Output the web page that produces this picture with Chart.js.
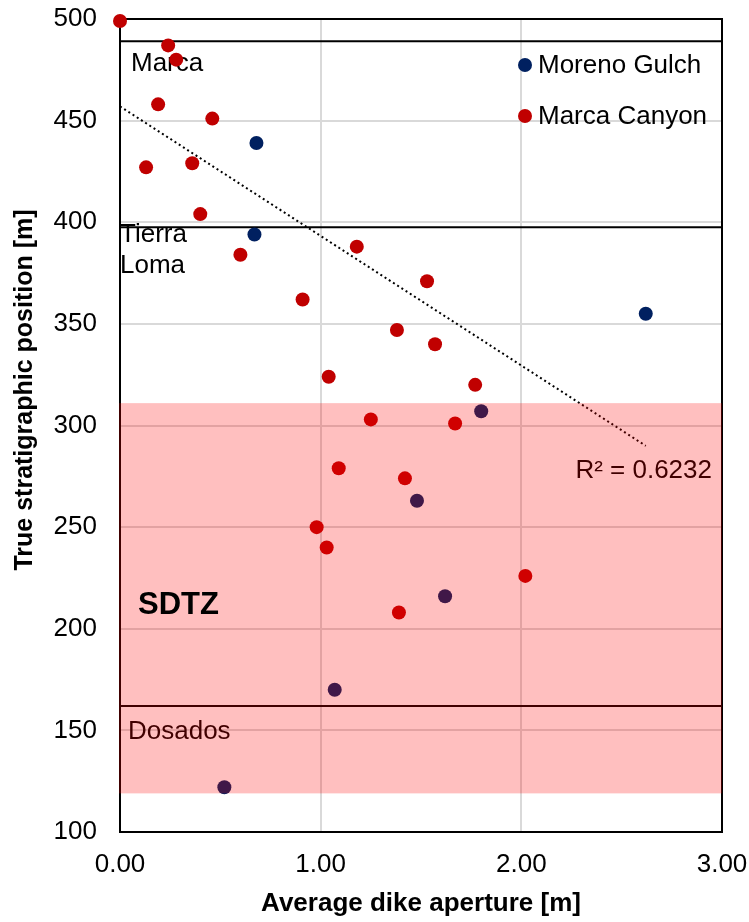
<!DOCTYPE html>
<html>
<head>
<meta charset="utf-8">
<script src="https://cdn.jsdelivr.net/npm/chart.js@4"></script>
<style>
body{margin:0;background:#fff}
</style>
</head>
<body>
<canvas id="dikeChart" width="749" height="922"></canvas>
<script>

// Marca Canyon points (aperture m, position m)
const marcaX = [0.00,0.24,0.28,0.19,0.46,0.36,0.13,0.40,0.60,1.18,0.91,1.53,1.38,1.57,1.04,1.77,1.25,1.67,1.09,1.42,0.98,1.03,2.02,1.39]
const marcaY = [499,487,480,458,451,429,427,404,384,388,362,371,347,340,324,320,303,301,279,274,250,240,226,208]

// Moreno Gulch points
const morenoX = [0.68,0.67,2.62,1.80,1.48,1.62,1.07,0.52]
const morenoY = [439,394,355,307,263,216,170,122]

// trendline ends as drawn
const trendX = [0.00,2.62]
const trendY = [457,290]

// unit boundaries and SDTZ zone
const unitLines = [489,397.5,162]
const sdtzZone = [119,311]

const toPts = (xs,ys)=>xs.map((x,i)=>({x:x,y:ys[i]}))

const FONT = "Arial, 'Liberation Sans', sans-serif"

const overlay = {
id:"overlay",
beforeDatasetsDraw(chart){
const c = chart.ctx
const ys = chart.scales.y
const a = chart.chartArea
c.save()
c.strokeStyle="#000"
c.lineWidth=2
unitLines.forEach(v=>{
let py=ys.getPixelForValue(v)
c.beginPath()
c.moveTo(a.left,py)
c.lineTo(a.right,py)
c.stroke()
})
c.strokeRect(a.left,a.top,a.right-a.left,a.bottom-a.top)
c.fillStyle="#000"
c.font="26px "+FONT
c.textBaseline="middle"
c.textAlign="left"
c.fillText("Marca",a.left+11,ys.getPixelForValue(478))
c.fillText("Tierra",a.left,ys.getPixelForValue(394))
c.fillText("Loma",a.left,ys.getPixelForValue(378.5))
c.fillText("Dosados",a.left+8,ys.getPixelForValue(149.5))
c.textAlign="right"
c.fillText("R² = 0.6232",a.right-10,ys.getPixelForValue(277.5))
// y axis title
c.save()
c.translate(25,390)
c.rotate(-Math.PI/2)
c.textAlign="center"
c.font="bold 25px "+FONT
c.fillText("True stratigraphic position [m]",0,0)
c.restore()
c.restore()
},
afterDatasetsDraw(chart){
const c = chart.ctx
const ys = chart.scales.y
const a = chart.chartArea
c.save()
let top=ys.getPixelForValue(sdtzZone[1]), bot=ys.getPixelForValue(sdtzZone[0])
c.fillStyle="rgba(255,0,0,0.25)"
c.fillRect(a.left-1,top,a.right-a.left+1,bot-top)
c.fillStyle="#000"
c.font="bold 31px "+FONT
c.textBaseline="middle"
c.textAlign="left"
c.fillText("SDTZ",a.left+18,ys.getPixelForValue(211.5))
// legend
const ds = chart.data.datasets
c.font="26px "+FONT
;[0,1].forEach(i=>{
let py = 65 + i*51
c.fillStyle=ds[i].backgroundColor
c.beginPath()
c.arc(525,py,7,0,Math.PI*2)
c.fill()
c.fillStyle="#000"
c.fillText(ds[i].label,538,py+1)
})
c.restore()
}
}

const ctx = document.getElementById("dikeChart")

new Chart(ctx,{
type:"scatter",
data:{
datasets:[
{label:"Moreno Gulch",data:toPts(morenoX,morenoY),backgroundColor:"#002060",borderWidth:0,pointRadius:7,pointHoverRadius:7,clip:false},
{label:"Marca Canyon",data:toPts(marcaX,marcaY),backgroundColor:"#c00000",borderWidth:0,pointRadius:7,pointHoverRadius:7,clip:false},
{label:"trend",data:toPts(trendX,trendY),showLine:true,borderColor:"#000",borderWidth:2,borderDash:[2,3],pointRadius:0,backgroundColor:"#000",clip:false}
]
},
plugins:[overlay],
options:{
responsive:false,
animation:false,
layout:{padding:{left:0,right:27,top:19,bottom:0}},
plugins:{legend:{display:false},tooltip:{enabled:false}},
scales:{
x:{
type:"linear",min:0,max:3,
afterFit(s){s.height=90;s.paddingLeft=0;s.paddingRight=0},
ticks:{stepSize:1,color:"#000",font:{size:26,family:FONT},padding:17,callback:v=>v.toFixed(2)},
grid:{color:"#d9d9d9",lineWidth:2,drawTicks:false},
border:{display:false},
title:{display:true,text:"Average dike aperture [m]",color:"#000",font:{size:26,weight:"bold",family:FONT},padding:{top:0,bottom:3}}
},
y:{
type:"linear",min:100,max:500,
afterFit(s){s.width=120;s.paddingTop=0;s.paddingBottom=0},
ticks:{stepSize:50,color:"#000",font:{size:26,family:FONT},padding:23},
grid:{color:"#d9d9d9",lineWidth:2,drawTicks:false},
border:{display:false}
}
}
}
})

</script>
</body>
</html>
